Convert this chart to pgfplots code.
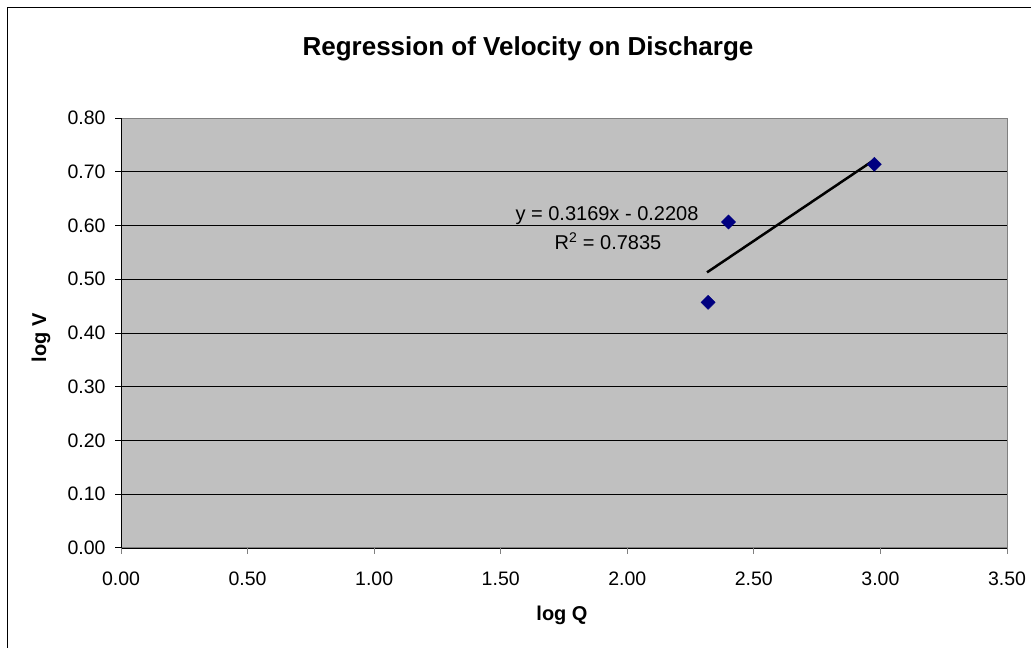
\documentclass[border=0pt]{standalone}
\usepackage{pgfplots}
\pgfplotsset{compat=1.18}
\usepackage{fontspec}
\setmainfont{Liberation Sans}
\definecolor{plotgray}{HTML}{C0C0C0}
\definecolor{navymark}{HTML}{000080}
\definecolor{framegray}{HTML}{808080}
\begin{document}
\begin{tikzpicture}
\useasboundingbox (0pt,0pt) rectangle (1031pt,648pt);
\draw[black, line width=1pt] (7.5pt,-20pt) rectangle (1060pt,640pt);
\begin{axis}[
  at={(121pt,100pt)}, anchor=south west,
  scale only axis, width=886pt, height=430pt,
  xmin=0, xmax=3.5, ymin=0, ymax=0.8,
  xtick={0,0.5,...,3.5},
  ytick={0,0.1,...,0.8},
  axis background/.style={fill=plotgray},
  axis line style={draw=framegray, line width=1pt},
  ymajorgrids, grid style={black, line width=0.9pt},
  tick align=outside, major tick length=6pt,
  xtick pos=bottom, ytick pos=left,
  x tick style={framegray, line width=1pt},
  y tick style={black, line width=1pt},
  /pgf/number format/assume math mode=true,
  xticklabel={\pgfmathprintnumber[fixed,fixed zerofill,precision=2]{\tick}},
  yticklabel={\pgfmathprintnumber[fixed,fixed zerofill,precision=2]{\tick}},
  ticklabel style={font=\fontsize{19.5}{22}\selectfont},
  xticklabel style={yshift=-14pt},
  yticklabel style={xshift=-6pt},
  clip=false,
]
\addplot[only marks, mark=square*, mark size=5pt, mark options={rotate=45, fill=navymark, draw=navymark}]
  coordinates {(2.319,0.457) (2.400,0.6065) (2.976,0.7139)};
\addplot[black, line width=2.5pt, no marks] coordinates {(2.315,0.5128) (2.979,0.7232)};
\draw[black, line width=1pt] (axis cs:0,0) -- (axis cs:0,0.8);
\end{axis}
\node[font=\fontsize{20}{24}\selectfont, anchor=base] at (607pt,427pt) {y = 0.3169x - 0.2208};
\node[font=\fontsize{20}{24}\selectfont, anchor=base] at (608pt,398pt) {R\textsuperscript{2} = 0.7835};
\node[font=\bfseries\fontsize{26}{30}\selectfont] at (528pt,599pt) {Regression of Velocity on Discharge};
\node[font=\bfseries\fontsize{20}{24}\selectfont, rotate=90] at (41pt,310pt) {log V};
\node[font=\bfseries\fontsize{20}{24}\selectfont] at (562pt,33pt) {log Q};
\end{tikzpicture}
\end{document}
